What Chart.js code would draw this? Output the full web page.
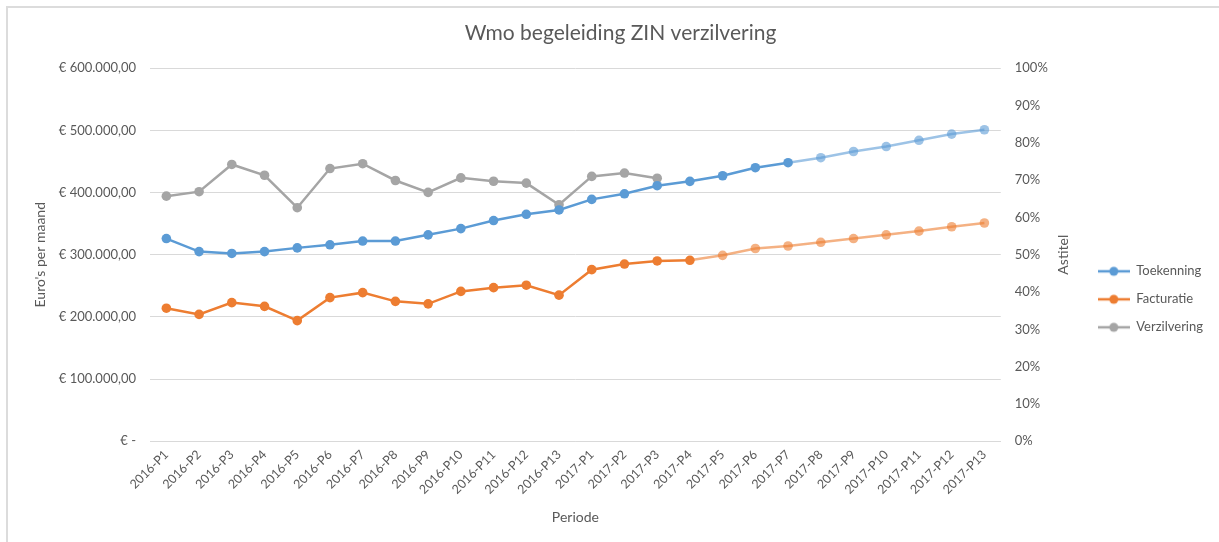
<!DOCTYPE html>
<html>
<head>
<meta charset="utf-8">
<script src="https://cdn.jsdelivr.net/npm/chart.js@4"></script>
<style>
  html, body { margin: 0; padding: 0; background: #fff; }
  #frame {
    position: absolute; left: 6px; top: 6px; width: 1213px; height: 536px;
    border-top: 2px solid #dcdcdc; border-left: 2px solid #dcdcdc;
  }
  #wrap { position: absolute; left: 0; top: 0; width: 1219px; height: 542px; }
</style>
</head>
<body>
<div id="frame"></div>
<div id="wrap"><canvas id="myChart"></canvas></div>
<script>
// Periodes (categorieen op de x-as)
const periodes = [
  "2016-P1","2016-P2","2016-P3","2016-P4","2016-P5","2016-P6","2016-P7",
  "2016-P8","2016-P9","2016-P10","2016-P11","2016-P12","2016-P13",
  "2017-P1","2017-P2","2017-P3","2017-P4","2017-P5","2017-P6","2017-P7",
  "2017-P8","2017-P9","2017-P10","2017-P11","2017-P12","2017-P13"
];

// Euro's per maand
const toekenning = [
  326000, 305000, 302000, 305000, 311000, 316000, 322000, 322000, 332000,
  342000, 355000, 365000, 372000, 389000, 398000, 411000, 418000, 427000,
  440000, 448000, 456000, 466000, 474000, 484000, 494000, 501000
];
const facturatie = [
  214000, 204000, 223000, 217000, 194000, 231000, 239000, 225000, 221000,
  241000, 247000, 251000, 235000, 276000, 285000, 290000, 291000, 299000,
  310000, 314000, 320000, 326000, 332000, 338000, 345000, 351000
];

// Verzilvering in procenten (rechter as)
const verzilvering = [
  65.7, 66.9, 74.2, 71.3, 62.6, 73.1, 74.4, 69.9, 66.7,
  70.6, 69.7, 69.2, 63.4, 71.0, 71.9, 70.5
];

// vanaf welk punt de lijn een prognose is (lichter)
const toekenningPrognoseVanaf = 19;
const facturatiePrognoseVanaf = 16;

const blauw = "#5B9BD5", blauwLicht = "rgba(91,155,213,0.6)";
const oranje = "#ED7D31", oranjeLicht = "rgba(237,125,49,0.6)";
const grijs = "#A5A5A5";
const tekstKleur = "#595959";
const font = "Lato, 'Open Sans', sans-serif";

function formatEuro(v){
  if (v === 0) return "€ -";
  const heel = Math.round(v).toString().replace(/\B(?=(\d{3})+(?!\d))/g, ".");
  return "€ " + heel + ",00";
}

// klein plaatje voor de legenda: lijn met een bolletje
function legendaIcoon(kleur){
  const c = document.createElement("canvas");
  c.width = 32; c.height = 12;
  const ctx = c.getContext("2d");
  ctx.strokeStyle = kleur; ctx.lineWidth = 2.5;
  ctx.beginPath(); ctx.moveTo(0, 6); ctx.lineTo(32, 6); ctx.stroke();
  ctx.fillStyle = kleur;
  ctx.beginPath(); ctx.arc(16, 6, 4.5, 0, Math.PI * 2); ctx.fill();
  return c;
}

function maakDataset(label, data, kleur, licht, vanaf, as){
  return {
    label,
    data,
    yAxisID: as,
    borderColor: kleur,
    backgroundColor: kleur,
    borderWidth: 2.5,
    pointRadius: 4.8,
    pointHoverRadius: 4.8,
    pointBorderWidth: 0,
    pointBackgroundColor: ctx => (vanaf !== null && ctx.dataIndex > vanaf) ? licht : kleur,
    segment: {
      borderColor: ctx => (vanaf !== null && ctx.p0DataIndex >= vanaf) ? licht : kleur
    },
    tension: 0,
    pointStyle: "circle",
    legendIcon: legendaIcoon(kleur)
  };
}

const datasets = [
  maakDataset("Toekenning", toekenning, blauw, blauwLicht, toekenningPrognoseVanaf, "euro"),
  maakDataset("Facturatie", facturatie, oranje, oranjeLicht, facturatiePrognoseVanaf, "euro"),
  maakDataset("Verzilvering", verzilvering, grijs, grijs, null, "pct")
];

// titel van de rechter as, van onder naar boven gelezen zoals in Excel
const asTitelRechts = {
  id: "asTitelRechts",
  afterDraw(chart){
    const s = chart.scales.pct;
    const ctx = chart.ctx;
    ctx.save();
    ctx.translate(s.left + 63, (chart.chartArea.top + chart.chartArea.bottom) / 2);
    ctx.rotate(-Math.PI / 2);
    ctx.fillStyle = tekstKleur;
    ctx.font = "14px " + font;
    ctx.textAlign = "center";
    ctx.textBaseline = "middle";
    ctx.fillText("Astitel", 0, 0);
    ctx.restore();
  }
};

const canvas = document.querySelector("#myChart");
const myChart = new Chart(canvas, {
  type: "line",
  data: { labels: periodes, datasets },
  plugins: [asTitelRechts],
  options: {
    responsive: true,
    maintainAspectRatio: false,
    animation: false,
    layout: { padding: { left: 28, right: 6, top: 21, bottom: 12 } },
    plugins: {
      tooltip: { enabled: false },
      title: {
        display: true,
        text: "Wmo begeleiding ZIN verzilvering",
        color: tekstKleur,
        font: { family: font, size: 21, weight: "normal" },
        padding: { top: 0, bottom: 22 }
      },
      legend: {
        position: "right",
        title: {
          display: true, text: " ",
          font: { family: font, size: 13 },
          padding: { top: 16, bottom: 16 }
        },
        labels: {
          color: tekstKleur,
          font: { family: font, size: 13 },
          usePointStyle: true,
          pointStyleWidth: 32,
          padding: 15,
          generateLabels: chart => chart.data.datasets.map((d, i) => ({
            text: d.label,
            pointStyle: d.legendIcon,
            fontColor: tekstKleur,
            strokeStyle: d.borderColor,
            fillStyle: d.borderColor,
            lineWidth: 0,
            datasetIndex: i,
            hidden: false
          }))
        }
      }
    },
    scales: {
      x: {
        offset: true,
        grid: { display: false, drawTicks: false },
        border: { display: true, color: "#d9d9d9" },
        ticks: {
          color: tekstKleur,
          font: { family: font, size: 12.5 },
          maxRotation: 45, minRotation: 45,
          autoSkip: false,
          padding: 6
        },
        title: {
          display: true, text: "Periode", color: tekstKleur,
          font: { family: font, size: 14 }, padding: { top: 6 }
        }
      },
      euro: {
        position: "left",
        min: 0, max: 600000,
        afterFit: s => { s.width = 122; },
        grid: { color: "#d9d9d9", drawTicks: false },
        border: { display: false },
        ticks: {
          stepSize: 100000,
          color: tekstKleur,
          font: { family: font, size: 13 },
          padding: 14,
          callback: v => formatEuro(v)
        },
        title: {
          display: true, text: "Euro's per maand", color: tekstKleur,
          font: { family: font, size: 14 }, padding: { bottom: 4 }
        }
      },
      pct: {
        position: "right",
        min: 0, max: 100,
        afterFit: s => { s.width = 82; },
        grid: { display: false, drawTicks: false },
        border: { display: false },
        ticks: {
          stepSize: 10,
          color: tekstKleur,
          font: { family: font, size: 13 },
          padding: 14,
          callback: v => v + "%"
        }
      }
    }
  }
});
</script>
</body>
</html>
